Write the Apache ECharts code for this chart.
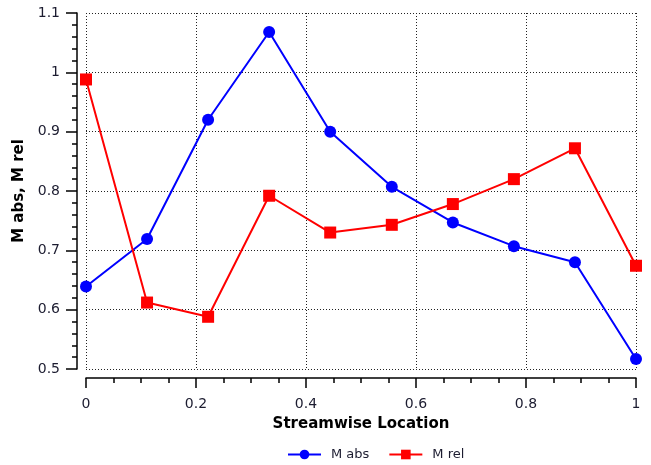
<!DOCTYPE html>
<html>
<head>
<meta charset="utf-8">
<title>M abs / M rel</title>
<script src="https://cdn.jsdelivr.net/npm/echarts@6/dist/echarts.min.js"></script>
</head>
<body style="margin:0;background:#fff">
<div id="main" style="width:651px;height:465px"></div>
<script>
// streamwise positions (10 stations, evenly spaced)
var xs = [0, 0.111, 0.222, 0.333, 0.444, 0.556, 0.667, 0.778, 0.889, 1];
var mAbs = [0.639, 0.719, 0.92, 1.068, 0.9, 0.807, 0.747, 0.707, 0.68, 0.517];
var mRel = [0.988, 0.612, 0.588, 0.792, 0.73, 0.743, 0.778, 0.82, 0.872, 0.674];
var xTicks = ['0', '0.2', '0.4', '0.6', '0.8', '1'];
var yTicks = ['0.5', '0.6', '0.7', '0.8', '0.9', '1', '1.1'];

function pairs(v) {
    return v.map(function (y, i) { return [xs[i], y]; });
}

var chart = echarts.init(document.getElementById('main'));
var labelStyle = { fontFamily: 'DejaVu Sans', fontSize: 14, color: '#1c1c30' };
var titleStyle = { fontFamily: 'DejaVu Sans', fontSize: 15, fontWeight: 'bold', color: '#000' };
var gridLine = { show: true, lineStyle: { color: '#222', type: [1, 2], width: 1 } };

var option = {
    animation: false,
    grid: { left: 86, right: 15, top: 13, bottom: 96 },
    legend: {
        top: 443,
        left: 282,
        itemWidth: 33,
        itemHeight: 12,
        itemGap: 19,
        textStyle: { fontFamily: 'DejaVu Sans', fontSize: 13, color: '#1c1c30', padding: [0, 0, 0, 5] },
        data: ['M abs', 'M rel']
    },
    xAxis: {
        type: 'value',
        min: 0, max: 1, interval: 0.2,
        offset: 9,
        name: 'Streamwise Location',
        nameLocation: 'middle',
        nameGap: 39,
        nameTextStyle: titleStyle,
        axisLine: { show: true, onZero: false, lineStyle: { color: '#000', width: 1.5 } },
        axisTick: { show: true, length: 10, lineStyle: { color: '#000', width: 1.5 } },
        minorTick: { show: true, splitNumber: 4, length: 5, lineStyle: { color: '#000', width: 1.5 } },
        axisLabel: Object.assign({ margin: 19, formatter: function (v) { return xTicks[Math.round(v / 0.2)]; } }, labelStyle),
        splitLine: gridLine
    },
    yAxis: {
        type: 'value',
        min: 0.5, max: 1.1, interval: 0.1,
        offset: 9,
        name: 'M abs, M rel',
        nameLocation: 'middle',
        nameGap: 42,
        nameTextStyle: titleStyle,
        axisLine: { show: true, onZero: false, lineStyle: { color: '#000', width: 1.5 } },
        axisTick: { show: true, length: 11, lineStyle: { color: '#000', width: 1.5 } },
        minorTick: { show: true, splitNumber: 5, length: 5, lineStyle: { color: '#000', width: 1.5 } },
        axisLabel: Object.assign({ margin: 17, formatter: function (v) { return yTicks[Math.round((v - 0.5) / 0.1)]; } }, labelStyle),
        splitLine: gridLine
    },
    series: [
        {
            name: 'M abs',
            type: 'line',
            data: pairs(mAbs),
            symbol: 'circle',
            symbolSize: 12,
            itemStyle: { color: '#0000ff' },
            lineStyle: { color: '#0000ff', width: 2 }
        },
        {
            name: 'M rel',
            type: 'line',
            data: pairs(mRel),
            symbol: 'rect',
            symbolSize: 12,
            itemStyle: { color: '#ff0000' },
            lineStyle: { color: '#ff0000', width: 2 }
        }
    ]
};

chart.setOption(option);
</script>
</body>
</html>
